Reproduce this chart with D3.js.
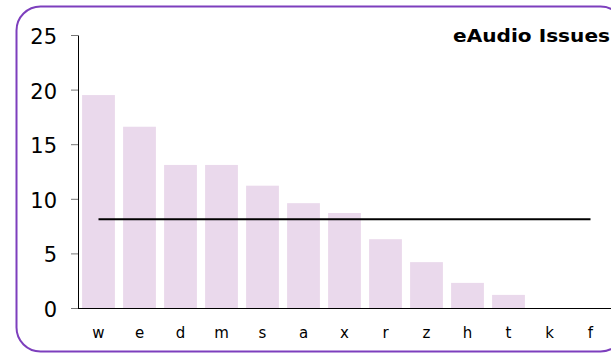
<!DOCTYPE html>
<html><head><meta charset="utf-8">
<script src="https://cdn.jsdelivr.net/npm/d3@7"></script>
<style>body{margin:0;background:#fff;} svg{display:block;}</style>
</head><body>
<svg id="c" width="611" height="353"></svg>
<script>
const categories = ["w","e","d","m","s","a","x","r","z","h","t","k","f"];
const values = [19.5,16.6,13.1,13.1,11.2,9.6,8.7,6.3,4.2,2.3,1.2,0,0];
const yTicks = [0,5,10,15,20,25];
const title = "eAudio Issues";

const svg = d3.select("#c");
svg.append("rect").attr("x",16.5).attr("y",6.5).attr("width",608).attr("height",345)
  .attr("rx",24).attr("ry",24).attr("fill","#fff").attr("stroke","#7d3fbd").attr("stroke-width",2);

const x = d3.scaleBand().domain(categories).range([78,611]).paddingInner(0.2).paddingOuter(0.1);
const y = d3.scaleLinear().domain([0,25]).range([308,35]);

svg.selectAll("rect.bar").data(values).join("rect").attr("class","bar")
  .attr("x",(d,i)=>x(categories[i])).attr("width",x.bandwidth())
  .attr("y",d=>y(d)).attr("height",d=>y(0)-y(d)).attr("fill","#ead9ec");

const mean = d3.mean(values);
svg.append("line").attr("x1",x(categories[0])+x.bandwidth()/2).attr("x2",x(categories[categories.length-1])+x.bandwidth()/2)
  .attr("y1",y(mean)).attr("y2",y(mean)).attr("stroke","#000").attr("stroke-width",2);

const ya = svg.append("g").attr("transform","translate(78,0)")
  .call(d3.axisLeft(y).tickValues(yTicks).tickSize(7).tickPadding(14).tickSizeOuter(0));
ya.select(".domain").attr("stroke","#000");
ya.selectAll(".tick line").attr("stroke","#777");
ya.selectAll("text").attr("font-family","DejaVu Sans, Verdana, sans-serif").attr("font-size",21).attr("fill","#000").attr("dy","0.4em");

const xa = svg.append("g").attr("transform","translate(0,308)")
  .call(d3.axisBottom(x).tickSize(0).tickPadding(19).tickSizeOuter(0));
xa.select(".domain").attr("stroke","#000").attr("d","M78,0.5H611");
xa.selectAll("text").attr("font-family","DejaVu Sans, Verdana, sans-serif").attr("font-size",15).attr("fill","#000");

const t = svg.append("text").attr("text-anchor","end")
  .attr("font-family","DejaVu Sans, Verdana, sans-serif").attr("font-weight","bold").attr("font-size",17.5)
  .text(title);
const w = t.node().getComputedTextLength();
t.attr("transform",`translate(610,42) scale(${157/w},1)`);
</script>
</body></html>
